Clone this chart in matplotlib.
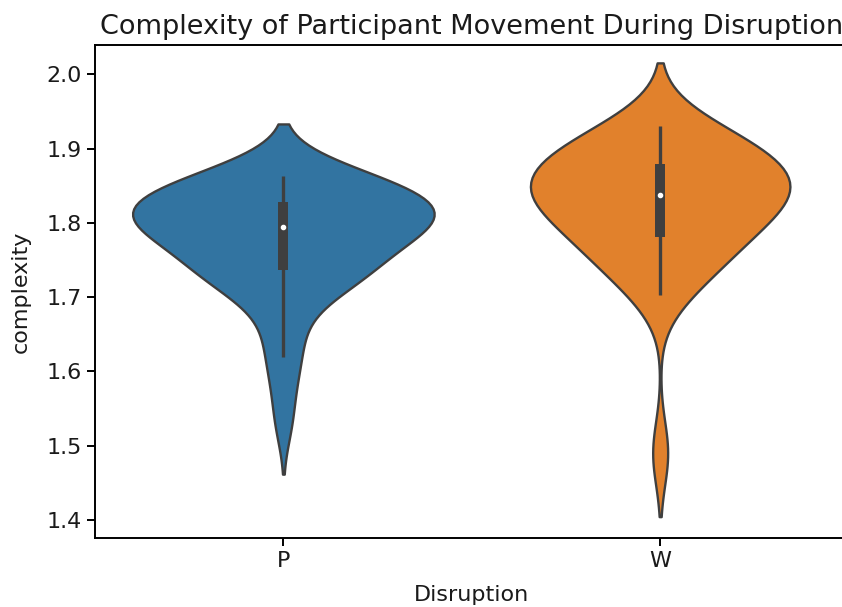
import numpy as np
import pandas as pd
import seaborn as sns
from matplotlib import pyplot as plt

# complexity scores per participant, grouped by disruption type
disruption = ["P", "W"]
complexity_p = [1.532, 1.585, 1.62, 1.645, 1.675, 1.70, 1.713, 1.722, 1.727, 1.73,
                1.733, 1.736, 1.74, 1.745, 1.755, 1.765, 1.772, 1.778, 1.783, 1.787,
                1.79, 1.793, 1.795, 1.797, 1.80, 1.803, 1.806, 1.809, 1.812, 1.815,
                1.818, 1.821, 1.824, 1.828, 1.832, 1.836, 1.84, 1.844, 1.848, 1.852,
                1.855, 1.858, 1.86, 1.862, 1.863]
complexity_w = [1.49, 1.703, 1.72, 1.735, 1.75, 1.76, 1.77, 1.778, 1.782, 1.795,
                1.805, 1.812, 1.82, 1.825, 1.83, 1.835, 1.84, 1.843, 1.848, 1.853,
                1.858, 1.862, 1.867, 1.878, 1.884, 1.888, 1.893, 1.90, 1.908, 1.915,
                1.922, 1.93]
colors = ["#3274a1", "#e1812c"]
line_gray = "#3f3f3f"

df = pd.DataFrame({
    "Disruption": ["P"] * len(complexity_p) + ["W"] * len(complexity_w),
    "complexity": complexity_p + complexity_w,
})

fig = plt.figure(figsize=(8.42, 6.07), dpi=100)
ax = fig.add_axes([0.1128, 0.1137, 0.895, 0.812])
sns.violinplot(data=df, x="Disruption", y="complexity", hue="Disruption",
               order=disruption, hue_order=disruption, palette=colors,
               saturation=1, legend=False, common_norm=True, inner=None,
               linewidth=1.7, linecolor=line_gray, ax=ax)

# inner box: whiskers at 1.5 IQR, thick quartile bar, white median dot
for i, vals in enumerate([complexity_p, complexity_w]):
    a = np.asarray(vals)
    q1, med, q3 = np.percentile(a, [25, 50, 75])
    lim = 1.5 * (q3 - q1)
    lo = a[a >= q1 - lim].min()
    hi = a[a <= q3 + lim].max()
    ax.plot([i, i], [lo, hi], color=line_gray, lw=2.4, solid_capstyle="butt", zorder=3)
    ax.plot([i, i], [q1, q3], color=line_gray, lw=7.2, solid_capstyle="butt", zorder=3)
    ax.scatter([i], [med], s=9, color="white", zorder=4)

ax.set_xlim(-0.5, 1.5)
ax.set_ylim(1.3758, 2.0394)
ax.set_title("Complexity of Participant Movement During Disruption",
             fontsize=19.5, color="#1a1a1a", pad=8)
ax.set_xlabel("Disruption", fontsize=16, color="#1a1a1a", labelpad=10)
ax.set_ylabel("complexity", fontsize=16, color="#1a1a1a", labelpad=11)
ax.tick_params(labelsize=16, length=6, width=1.4, labelcolor="#1a1a1a")
for s in ax.spines.values():
    s.set_linewidth(1.4)
fig.savefig("out.png", dpi=100)
